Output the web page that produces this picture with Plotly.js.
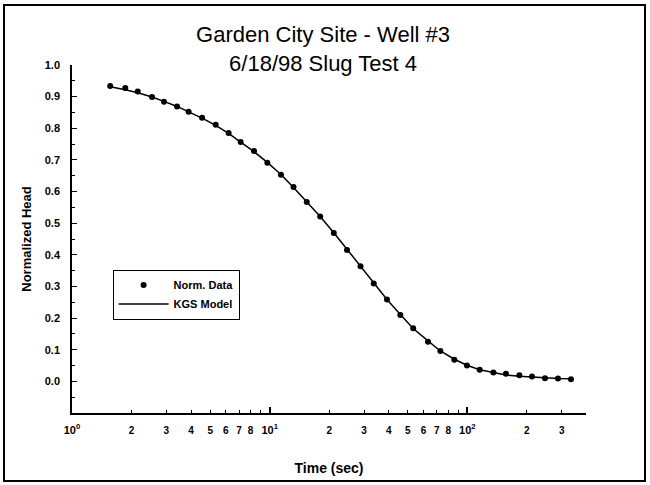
<!DOCTYPE html>
<html>
<head>
<meta charset="utf-8">
<script src="https://cdn.plot.ly/plotly-3.0.1.min.js"></script>
<style>
  body { margin: 0; background: #fff; }
  #wrap { position: relative; width: 650px; height: 485px; }
  #chart { width: 650px; height: 485px; }
  #frame { position: absolute; left: 3px; top: 4px; width: 639px; height: 474px;
           border: 2px solid #000; pointer-events: none; }
</style>
</head>
<body>
<div id="wrap">
  <div id="chart"></div>
  <div id="frame"></div>
</div>
<script>
// time (sec) of the measured points
var timeSec = [1.56, 1.86, 2.15, 2.54, 2.92, 3.40, 3.89, 4.55, 5.33, 6.20, 7.13, 8.33,
               9.73, 11.4, 13.2, 15.4, 18.0, 21.1, 24.6, 28.8, 33.6, 39.2, 45.8, 53.2,
               63.2, 73.0, 85.9, 99.5, 115.4, 135.4, 156.7, 183.2, 212.2, 246.9, 287.3, 334.2];
// normalized head, measured
var normData = [0.934, 0.927, 0.916, 0.899, 0.884, 0.869, 0.852, 0.833, 0.811, 0.785, 0.757, 0.728,
                0.691, 0.653, 0.614, 0.567, 0.521, 0.469, 0.415, 0.364, 0.309, 0.259, 0.210, 0.168,
                0.125, 0.096, 0.068, 0.050, 0.037, 0.028, 0.024, 0.019, 0.015, 0.010, 0.009, 0.007];
// KGS model curve
var kgsModel = [0.931, 0.922, 0.912, 0.899, 0.885, 0.869, 0.852, 0.832, 0.809, 0.784, 0.756, 0.726,
                0.692, 0.654, 0.613, 0.568, 0.521, 0.470, 0.417, 0.364, 0.311, 0.259, 0.211, 0.167,
                0.128, 0.096, 0.070, 0.051, 0.037, 0.027, 0.020, 0.016, 0.013, 0.011, 0.009, 0.008];

// axis ticks
var xDigitVals = [2, 3, 4, 5, 6, 7, 8, 20, 30, 40, 50, 60, 70, 80, 200, 300];
var xDigitText = ['2', '3', '4', '5', '6', '7', '8', '2', '3', '4', '5', '6', '7', '8', '2', '3'];
var xDecadeVals = [1, 10, 100];
var xDecadeText = ['10<sup>0</sup>', '10<sup>1</sup>', '10<sup>2</sup>'];
var yTickVals = [0, 0.1, 0.2, 0.3, 0.4, 0.5, 0.6, 0.7, 0.8, 0.9, 1.0];
var yTickText = ['0.0', '0.1', '0.2', '0.3', '0.4', '0.5', '0.6', '0.7', '0.8', '0.9', '1.0'];

var FONT = 'Arial, "Liberation Sans", sans-serif';

var dataTrace = {
    x: timeSec,
    y: normData,
    mode: 'markers',
    name: 'Norm. Data',
    marker: { color: '#000', size: 6 },
    type: 'scatter'
};

var modelTrace = {
    x: timeSec,
    y: kgsModel,
    xaxis: 'x2',
    mode: 'lines',
    name: 'KGS Model',
    line: { color: '#000', width: 1.5 },
    type: 'scatter'
};

var layout = {
    width: 650,
    height: 485,
    margin: { l: 72, r: 64, t: 65, b: 72 },
    paper_bgcolor: '#fff',
    plot_bgcolor: '#fff',
    font: { family: FONT, color: '#000' },
    title: {
        text: 'Garden City Site - Well #3<br>6/18/98 Slug Test 4',
        font: { size: 22, family: FONT, color: '#000' },
        x: 0.497,
        xref: 'container',
        y: 0.913,
        yref: 'container',
        yanchor: 'top'
    },
    // digit labels between the decades (no tick marks here)
    xaxis: {
        type: 'log',
        range: [0, 2.6],
        showgrid: false,
        zeroline: false,
        showline: true,
        linecolor: '#000',
        linewidth: 2,
        tickmode: 'array',
        tickvals: xDigitVals,
        ticktext: xDigitText,
        ticks: '',
        tickfont: { size: 10, family: FONT, weight: 'bold' },
        ticklabelstandoff: 7,
        title: {
            text: '<b>Time (sec)</b>',
            font: { size: 14, family: FONT },
            standoff: 28
        }
    },
    // decade labels + all tick marks
    xaxis2: {
        type: 'log',
        range: [0, 2.6],
        overlaying: 'x',
        anchor: 'y',
        side: 'bottom',
        showgrid: false,
        zeroline: false,
        showline: false,
        tickmode: 'array',
        tickvals: xDecadeVals,
        ticktext: xDecadeText,
        ticks: 'inside',
        ticklen: 6,
        tickwidth: 1.5,
        tickcolor: '#000',
        minor: { dtick: 'D1', ticks: 'inside', ticklen: 3, tickwidth: 1, tickcolor: '#000' },
        tickfont: { size: 11, family: FONT, weight: 'bold' },
        ticklabelstandoff: 9
    },
    yaxis: {
        range: [-0.1, 1.0],
        showgrid: false,
        zeroline: false,
        showline: true,
        linecolor: '#000',
        linewidth: 1.5,
        tickmode: 'array',
        tickvals: yTickVals,
        ticktext: yTickText,
        ticks: 'inside',
        ticklen: 5,
        tickwidth: 1,
        tickcolor: '#000',
        minor: { dtick: 0.05, tick0: 0, ticks: 'inside', ticklen: 3, tickcolor: '#000', tickwidth: 1 },
        tickfont: { size: 11, family: FONT, weight: 'bold' },
        ticklabelstandoff: 8,
        title: {
            text: '<b>Normalized Head</b>',
            font: { size: 13, family: FONT },
            standoff: 10
        }
    },
    showlegend: true,
    legend: {
        x: 0.079,
        y: 0.412,
        xanchor: 'left',
        yanchor: 'top',
        bgcolor: '#fff',
        bordercolor: '#000',
        borderwidth: 1,
        itemwidth: 50,
        font: { size: 11, family: FONT, weight: 'bold' }
    }
};

Plotly.newPlot('chart', [dataTrace, modelTrace], layout, { displayModeBar: false });
</script>
</body>
</html>
